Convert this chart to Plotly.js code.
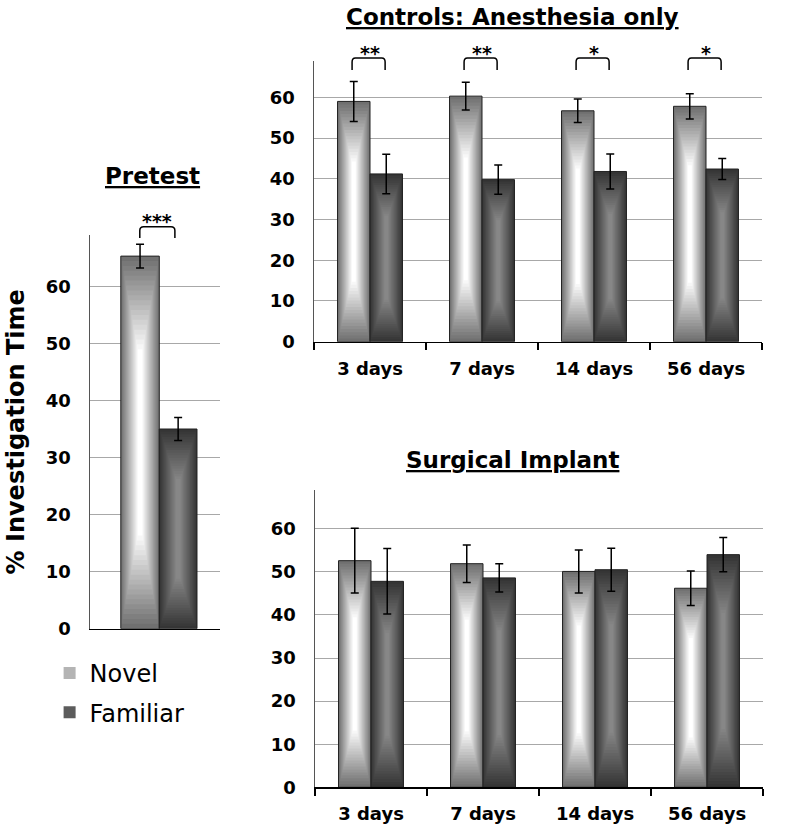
<!DOCTYPE html>
<html>
<head>
<meta charset="utf-8">
<script src="https://cdn.plot.ly/plotly-3.0.1.min.js"></script>
<style>html,body{margin:0;padding:0;background:#fff;}#chart{width:800px;height:830px;}</style>
</head>
<body>
<div id="chart"></div>
<script>
// ---------- data ----------
const categories = ['3 days', '7 days', '14 days', '56 days'];
const seriesNames = ['Novel', 'Familiar'];
const yTicks = [0, 10, 20, 30, 40, 50, 60];

const pretestNovel = [65.3];
const pretestNovelErr = [2.1];
const pretestFamiliar = [35.0];
const pretestFamiliarErr = [2.0];
const pretestStars = ['***'];

const ctrlNovel = [59.0, 60.3, 56.7, 57.8];
const ctrlNovelErr = [4.9, 3.4, 2.9, 3.1];
const ctrlFamiliar = [41.2, 39.8, 41.8, 42.4];
const ctrlFamiliarErr = [4.85, 3.6, 4.3, 2.6];
const ctrlStars = ['**', '**', '*', '*'];

const surgNovel = [52.6, 51.9, 50.1, 46.2];
const surgNovelErr = [7.5, 4.35, 5.0, 4.0];
const surgFamiliar = [47.8, 48.6, 50.5, 54.0];
const surgFamiliarErr = [7.6, 3.3, 5.0, 4.0];

// ---------- styling helpers ----------
const FONT = 'DejaVu Sans, Verdana, sans-serif';
const N = 20;
const BW = 0.29;
const novelEdge = [112, 112, 112], novelCenter = [255, 255, 255];
const famEdge = [53, 53, 53], famCenter = [135, 135, 135];

function mix(a, b, t) {
  return 'rgb(' + a.map((v, i) => Math.round(v + (b[i] - v) * t)).join(',') + ')';
}

function gradientBars(xa, ya, x, vals, errs, offset, width, edge, center, name, legend) {
  const out = [];
  for (let k = 0; k < N; k++) {
    const t = k / (N - 1);
    const fw = 1 - 0.88 * t;
    const fh = 1 - 0.5 * t;
    out.push({
      type: 'bar', xaxis: xa, yaxis: ya, x: x,
      y: vals.map(v => v * fh),
      base: vals.map(v => v * (1 - fh) / 2),
      offset: offset + width * (1 - fw) / 2,
      width: width * fw,
      marker: { color: mix(edge, center, t), line: { width: 0 } },
      hoverinfo: 'skip',
      name: name, legendgroup: name,
      showlegend: legend && k === Math.round(N * 0.45)
    });
  }
  out.push({
    type: 'bar', xaxis: xa, yaxis: ya, x: x, y: vals,
    offset: offset, width: width,
    marker: { color: 'rgba(0,0,0,0)', line: { color: '#222', width: 1 } },
    error_y: { type: 'data', array: errs, visible: true, color: '#000', thickness: 1.5, width: 4 },
    hoverinfo: 'skip', showlegend: false, name: name, legendgroup: name
  });
  return out;
}

const pretestX = [0];
const catX = categories.map((c, i) => i);

let traces = [];
traces = traces.concat(gradientBars('x', 'y', pretestX, pretestNovel, pretestNovelErr, -0.296, 0.296, novelEdge, novelCenter, seriesNames[0], true));
traces = traces.concat(gradientBars('x', 'y', pretestX, pretestFamiliar, pretestFamiliarErr, 0, 0.29, famEdge, famCenter, seriesNames[1], true));
traces = traces.concat(gradientBars('x2', 'y2', catX, ctrlNovel, ctrlNovelErr, -BW, BW, novelEdge, novelCenter, seriesNames[0], false));
traces = traces.concat(gradientBars('x2', 'y2', catX, ctrlFamiliar, ctrlFamiliarErr, 0, BW, famEdge, famCenter, seriesNames[1], false));
traces = traces.concat(gradientBars('x3', 'y3', catX, surgNovel, surgNovelErr, -BW, BW, novelEdge, novelCenter, seriesNames[0], false));
traces = traces.concat(gradientBars('x3', 'y3', catX, surgFamiliar, surgFamiliarErr, 0, BW, famEdge, famCenter, seriesNames[1], false));

// ---------- axes ----------
const tickFont = { family: FONT, size: 18, color: '#000', weight: 'bold' };
function yAxis(domain, anchor, title) {
  const a = {
    domain: domain, anchor: anchor, range: [0, 69], tickmode: 'array', tickvals: yTicks,
    showgrid: true, gridcolor: '#a8a8a8', gridwidth: 1,
    showline: true, linecolor: '#555', linewidth: 1.5,
    ticks: '', ticklabelstandoff: 14, zeroline: false, tickfont: tickFont, fixedrange: true
  };
  if (title) a.title = { text: title, font: { family: FONT, size: 24, color: '#000', weight: 'bold' }, standoff: 14 };
  return a;
}
function xCatAxis(domain, anchor) {
  return {
    domain: domain, anchor: anchor, range: [-0.5, categories.length - 0.5],
    tickmode: 'array', tickvals: catX, ticktext: categories, ticks: '',
    ticklabelstandoff: 10, tickfont: tickFont,
    minor: { tickmode: 'array', tickvals: [-0.5].concat(catX.map(i => i + 0.5)), ticks: 'outside', ticklen: 7, tickwidth: 1.5, tickcolor: '#000', showgrid: false },
    showline: true, linecolor: '#000', linewidth: 1.5, showgrid: false, zeroline: false, fixedrange: true
  };
}

// ---------- annotations (titles, stars) and brackets ----------
function titleAnn(text, x, y) {
  return { text: '<u>' + text + '</u>', xref: 'paper', yref: 'paper', x: x, y: y, xanchor: 'center', yanchor: 'middle',
    showarrow: false, font: { family: FONT, size: 23, color: '#000', weight: 'bold' } };
}
const annotations = [
  titleAnn('Pretest', 0.191, 1 - 176 / 830),
  titleAnn('Controls: Anesthesia only', 0.641, 1 - 17 / 830),
  titleAnn('Surgical Implant', 0.641, 1 - 460 / 830)
];
const shapes = [];
function bracket(xref, xc, x0off, x1off, yb, ym, yt) {
  const x0 = xc + x0off, x1 = xc + x1off, r = 0.03;
  shapes.push({ type: 'path', xref: xref, yref: 'paper',
    path: `M${x0},${yb} L${x0},${ym} Q${x0},${yt} ${x0 + r},${yt} L${x1 - r},${yt} Q${x1},${yt} ${x1},${ym} L${x1},${yb}`,
    line: { color: '#000', width: 1.5 } });
}
pretestStars.forEach((s, i) => {
  annotations.push({ text: s, xref: 'x', yref: 'paper', x: i - 0.015, y: 1 - 221 / 830, showarrow: false,
    xanchor: 'center', yanchor: 'middle', font: { family: FONT, size: 19, color: '#000', weight: 'bold' } });
  bracket('x', i, -0.15, 0.12, 1 - 238 / 830, 1 - 230.5 / 830, 1 - 226.7 / 830);
});
ctrlStars.forEach((s, i) => {
  annotations.push({ text: s, xref: 'x2', yref: 'paper', x: i, y: 1 - 53 / 830, showarrow: false,
    xanchor: 'center', yanchor: 'middle', font: { family: FONT, size: 19, color: '#000', weight: 'bold' } });
  bracket('x2', i, -0.16, 0.135, 1 - 70 / 830, 1 - 62 / 830, 1 - 58 / 830);
});

const layout = {
  width: 800, height: 830,
  margin: { l: 0, r: 0, t: 0, b: 0 },
  paper_bgcolor: '#fff', plot_bgcolor: 'rgba(0,0,0,0)',
  barmode: 'overlay',
  font: { family: FONT, color: '#000' },
  xaxis: { domain: [90 / 800, 220 / 800], anchor: 'y', range: [-0.533, 0.467], showticklabels: false, ticks: '',
    showline: true, linecolor: '#000', linewidth: 1.5, showgrid: false, zeroline: false, fixedrange: true },
  yaxis: yAxis([1 - 628.7 / 830, 1 - 235 / 830], 'x', '% Investigation Time'),
  xaxis2: xCatAxis([314 / 800, 762 / 800], 'y2'),
  yaxis2: yAxis([1 - 341.7 / 830, 1 - 60.7 / 830], 'x2'),
  xaxis3: xCatAxis([315 / 800, 763 / 800], 'y3'),
  yaxis3: yAxis([1 - 787.3 / 830, 1 - 490 / 830], 'x3'),
  showlegend: true,
  legend: { x: 0.062, y: 1 - 651 / 830, xanchor: 'left', yanchor: 'top', bgcolor: 'rgba(0,0,0,0)',
    font: { family: FONT, size: 24, color: '#000' }, traceorder: 'grouped', tracegroupgap: 5 },
  annotations: annotations,
  shapes: shapes
};

Plotly.newPlot('chart', traces, layout, { staticPlot: true, displayModeBar: false });
</script>
</body>
</html>
